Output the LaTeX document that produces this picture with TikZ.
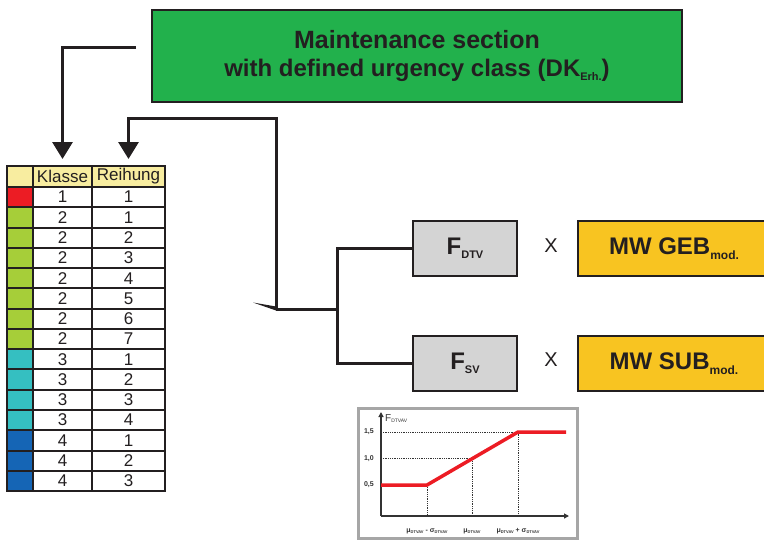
\documentclass[tikz,border=0pt]{standalone}
\usepackage{fontspec}
\setmainfont{Liberation Sans}
\usetikzlibrary{arrows.meta,positioning,calc}
\definecolor{mkdark}{HTML}{231F20}
\definecolor{mkgreen}{HTML}{22B14C}
\definecolor{mkhead}{HTML}{F8EDA0}
\definecolor{mkred}{HTML}{EC1C24}
\definecolor{mklime}{HTML}{A6CE39}
\definecolor{mkteal}{HTML}{35BFC1}
\definecolor{mkblue}{HTML}{1565B5}
\definecolor{mkgray}{HTML}{D4D4D4}
\definecolor{mkorange}{HTML}{F8C421}
\definecolor{mkframe}{HTML}{A6A6A6}
\definecolor{mktext}{HTML}{333333}
\newcommand\subtxt[2]{\raisebox{-0.35ex}{\fontsize{#1}{#1}\selectfont #2}}

\tikzset{
  boxline/.style={draw=mkdark,line width=2pt},
  titlebox/.style={boxline,fill=mkgreen,minimum width=530pt,minimum height=92pt,
    align=center,font=\fontsize{24}{28}\selectfont\bfseries,text=mkdark},
  cell/.style={boxline,fill=white,inner sep=0pt,minimum height=20.27pt,
    font=\fontsize{17}{17}\selectfont,text=mkdark},
  colcell/.style={cell,minimum width=26pt},
  klcell/.style={cell,minimum width=59pt},
  recell/.style={cell,minimum width=73pt},
  factor/.style={boxline,fill=mkgray,minimum width=104pt,minimum height=55pt,
    font=\fontsize{24}{24}\selectfont\bfseries,text=mkdark},
  mwbox/.style={boxline,fill=mkorange,minimum width=192pt,minimum height=55pt,
    font=\fontsize{24}{24}\selectfont\bfseries,text=mkdark},
  times/.style={font=\fontsize{20}{20}\selectfont,text=mkdark},
  conn/.style={draw=mkdark,line width=3pt},
  bigarrow/.style={conn,-{Triangle[length=17pt,width=20pt]},shorten >=6pt},
  axis/.style={draw=mktext,line width=1.2pt,-{Triangle[length=5pt,width=5pt]}},
  guide/.style={draw=mktext,densely dotted,line width=0.8pt},
  curve/.style={draw=mkred,line width=3.5pt},
  small/.style={font=\fontsize{7}{7}\selectfont\bfseries,text=mktext,inner sep=1pt}
}

\begin{document}
\begin{tikzpicture}[x=1pt,y=-1pt]
  \useasboundingbox (0,0) rectangle (764,541);

  % ---- Title box ----
  \node[titlebox] (title) at (417,56)
    {{\fontsize{25}{28}\selectfont Maintenance section}\\
     with defined urgency class (DK\subtxt{11}{Erh.})};

  % ---- Table ----
  \node[colcell,fill=mkhead,minimum height=21pt] (h0) at (20,176.5) {};
  \node[klcell,fill=mkhead,minimum height=21pt] (hk) at (62.5,176.5) {Klasse};
  \node[recell,fill=mkhead,minimum height=21pt] (hr) at (128.5,176.5) {Reihung};
  \foreach \c/\k/\r [count=\i] in {mkred/1/1,mklime/2/1,mklime/2/2,mklime/2/3,
      mklime/2/4,mklime/2/5,mklime/2/6,mklime/2/7,mkteal/3/1,mkteal/3/2,
      mkteal/3/3,mkteal/3/4,mkblue/4/1,mkblue/4/2,mkblue/4/3} {
    \node[colcell,fill=\c] (c\i) at (20,{187+20.27*(\i-0.5)}) {};
    \node[klcell] (k\i) at (62.5,{187+20.27*(\i-0.5)}) {\k};
    \node[recell] (r\i) at (128.5,{187+20.27*(\i-0.5)}) {\r};
  }

  % ---- Factor boxes ----
  \node[factor] (fdtv) at (465,248.5) {F\subtxt{11}{DTV}};
  \node[factor] (fsv) at (465,363.5) {F\subtxt{11}{SV}};
  \node[times] (x1) at (551,246) {X};
  \node[times] (x2) at (551,360) {X};
  \node[mwbox] (mwgeb) at (674,248.5) {MW GEB\subtxt{12}{mod.}};
  \node[mwbox] (mwsub) at (674,363.5) {MW SUB\subtxt{12}{mod.}};

  % ---- Connectors ----
  \coordinate (t1) at ($(title.west)+(-15,-9)$);
  \coordinate (j) at (276,309);
  \coordinate (br) at (337,309);
  \draw[bigarrow] (t1) -| (hk.north);
  \draw[bigarrow] (j) -- ++(0,-191) -| (hr.north);
  \fill[mkdark] ($(j)+(-23,-6.5)$) -- ($(j)+(0,-2.5)$) -- ($(j)+(0,1.5)$) -- cycle;
  \draw[conn] (j) -- (br);
  \draw[conn] (fdtv.west) -| (br) |- (fsv.west);

  % ---- Chart ----
  \draw[draw=mkframe,line width=3pt] (358,408) rectangle (577,538);
  \coordinate (o) at (381,516);
  \draw[axis] (o) -- (381,412);
  \draw[axis] (o) -- (569,516);
  \coordinate (p1) at (427,485);
  \coordinate (pm) at (472,458.5);
  \coordinate (p2) at (518,432);
  \draw[guide] (o |- p2) -- (p2) -- (p2 |- o);
  \draw[guide] (o |- pm) -- (pm) -- (pm |- o);
  \draw[guide] (p1) -- (p1 |- o);
  \draw[curve] (o |- p1) -- (p1) -- (p2) -- (566,432);
  \node[small,anchor=east] (l15) at (375,432) {1,5};
  \node[small,anchor=east] (l10) at (375,458.5) {1,0};
  \node[small,anchor=east] (l05) at (375,485) {0,5};
  \node[small,anchor=base west,font=\fontsize{10}{10}\selectfont,text=mktext]
    (fy) at (384,421) {F\subtxt{5}{DTVAV}};
  \node[small] (m1) at (427,531) {μ\subtxt{4}{DTVAV} - σ\subtxt{4}{DTVAV}};
  \node[small] (m2) at (472,531) {μ\subtxt{4}{DTVAV}};
  \node[small] (m3) at (518,531) {μ\subtxt{4}{DTVAV} + σ\subtxt{4}{DTVAV}};
\end{tikzpicture}
\end{document}
